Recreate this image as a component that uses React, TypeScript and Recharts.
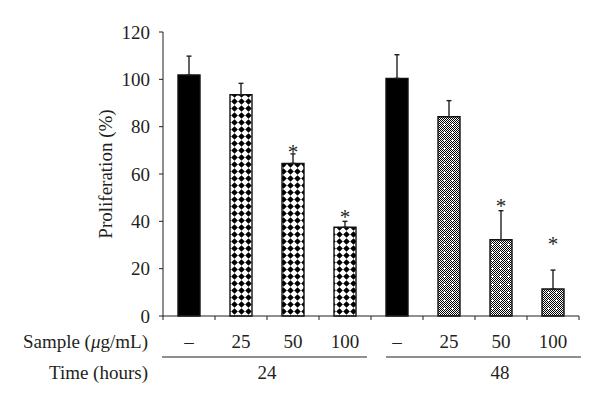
import { BarChart, Bar, XAxis, YAxis, Cell, ErrorBar, LabelList } from "recharts";

const sampleDoses = ["–", "25", "50", "100", "–", "25", "50", "100"];
const timeHours = ["24", "24", "24", "24", "48", "48", "48", "48"];
const proliferation = [101.8, 93.5, 64.5, 37.5, 100.4, 84.2, 32.2, 11.4];
const errorUp = [8, 4.8, 4, 2.5, 10, 6.8, 12.3, 8];
// height (in %) where the significance asterisk sits; null = not significant
const starAt = [null, null, 71, 43.5, null, null, 48, 32];
const yTicks = [0, 20, 40, 60, 80, 100, 120];

const data = sampleDoses.map((dose, i) => ({
  key: `${timeHours[i]}-${i}`,
  dose,
  time: timeHours[i],
  value: proliferation[i],
  err: [0, errorUp[i]],
}));

const FONT = "Liberation Serif, Times New Roman, serif";
const INK = "#231f20";
const FS = 19;

// fill per bar: control = solid black, 24 h = diamonds, 48 h = fine grey checker
const barFill = (i: number) =>
  i % 4 === 0 ? "#000" : i < 4 ? "url(#diamondPat)" : "url(#greyPat)";

const XTick = (props: any) => {
  const { x, y, payload } = props;
  const i = props.index ?? payload?.index ?? 0;
  const half = payload?.offset ?? 26;
  const left = x - half;
  const groupW = half * 8;
  return (
    <g fontFamily={FONT} fontSize={FS} fill={INK}>
      <line x1={left} y1={y} x2={left} y2={y + 4} stroke={INK} />
      {i === sampleDoses.length - 1 && (
        <line x1={x + half} y1={y} x2={x + half} y2={y + 4} stroke={INK} />
      )}
      <text x={x} y={y + 32} textAnchor="middle" style={{ fontFamily: FONT }}>
        {sampleDoses[i]}
      </text>
      {i === 0 && (
        <>
          <line x1={left - 1} y1={y + 41} x2={left + groupW - 4} y2={y + 41} stroke={INK} strokeWidth={1.2} />
          <text x={left + groupW / 2} y={y + 63} textAnchor="middle" style={{ fontFamily: FONT }}>
            {timeHours[i]}
          </text>
          <text x={left - 15} y={y + 32} textAnchor="end" style={{ fontFamily: FONT }}>
            Sample (<tspan fontStyle="italic">μ</tspan>g/mL)
          </text>
          <text x={left - 15} y={y + 63} textAnchor="end" style={{ fontFamily: FONT }}>
            Time (hours)
          </text>
        </>
      )}
      {i === 4 && (
        <>
          <line x1={left + 15} y1={y + 41} x2={left + groupW + 2} y2={y + 41} stroke={INK} strokeWidth={1.2} />
          <text x={left + groupW / 2 + 25} y={y + 63} textAnchor="middle" style={{ fontFamily: FONT }}>
            {timeHours[i]}
          </text>
        </>
      )}
    </g>
  );
};

const Star = (props: any) => {
  const { x, y, width, height, index, value } = props;
  const level = starAt[index];
  if (level == null || !value) return null;
  // bar's own pixels-per-unit gives the y scale
  const yc = y + height - level * (height / value);
  return (
    <text x={x + width / 2} y={yc + 11} textAnchor="middle" fontSize={21} fill={INK} style={{ fontFamily: FONT }}>
      *
    </text>
  );
};

const YLabel = (props: any) => {
  const vb = props.viewBox || { x: 0, y: 32, width: 163, height: 284 };
  const cx = vb.x + vb.width - 51;
  const cy = vb.y + vb.height / 2;
  return (
    <text x={cx} y={cy} transform={`rotate(-90, ${cx}, ${cy})`} textAnchor="middle" fontSize={FS} fill={INK} style={{ fontFamily: FONT }}>
      Proliferation (%)
    </text>
  );
};

const checker: JSX.Element[] = [];
for (let r = 0; r < 8; r++)
  for (let c = 0; c < 8; c++)
    if ((r + c) % 2 === 0) checker.push(<rect key={`${r}-${c}`} x={c} y={r} width={1} height={1} fill="#000" />);

export default function App() {
  return (
    <div style={{ position: "absolute", left: 0, top: 0, background: "#fff", fontFamily: FONT }}>
      <BarChart width={600} height={401} data={data} margin={{ top: 32, right: 21, bottom: 0, left: 0 }} barSize={22}>
        <defs>
          <pattern id="diamondPat" width={7} height={7} patternUnits="userSpaceOnUse">
            <rect width={7} height={7} fill="#fff" />
            <polygon points="3.5,0.2 6.8,3.5 3.5,6.8 0.2,3.5" fill="#000" />
          </pattern>
          <pattern id="greyPat" width={8} height={8} patternUnits="userSpaceOnUse">
            <rect width={8} height={8} fill="#fff" />
            {checker}
            <rect x={3} y={4} width={3} height={1} fill="#fff" />
            <rect x={4} y={3} width={1} height={3} fill="#fff" />
          </pattern>
        </defs>
        <XAxis
          dataKey="key"
          height={85}
          tickLine={false}
          tickSize={0}
          tickMargin={0}
          interval={0}
          axisLine={{ stroke: INK }}
          tick={<XTick />}
        />
        <YAxis
          width={163}
          domain={[0, 120]}
          ticks={yTicks}
          interval={0}
          tickSize={4}
          tickMargin={9}
          axisLine={{ stroke: INK }}
          tickLine={{ stroke: INK }}
          tick={{ fill: INK, fontSize: FS, fontFamily: FONT, style: { fontFamily: FONT } }}
          label={YLabel}
        />
        <Bar dataKey="value" isAnimationActive={false} stroke="#111" strokeWidth={1.4}>
          {data.map((d, i) => (
            <Cell key={d.key} fill={barFill(i)} />
          ))}
          <ErrorBar dataKey="err" direction="y" width={2.5} stroke={INK} strokeWidth={1.4} />
          <LabelList dataKey="value" content={<Star />} />
        </Bar>
      </BarChart>
    </div>
  );
}
